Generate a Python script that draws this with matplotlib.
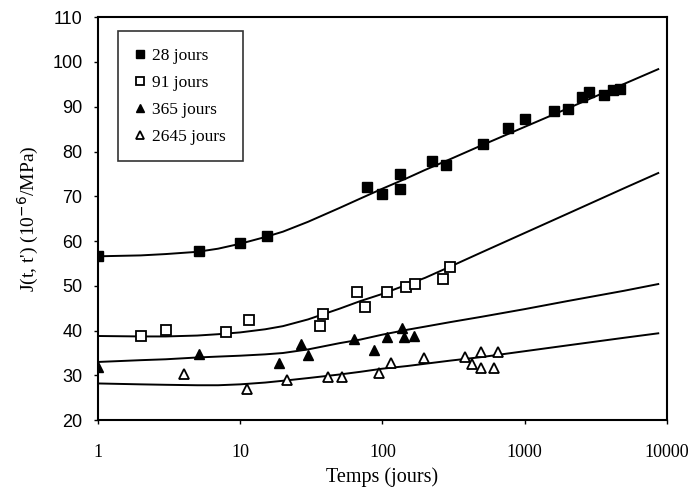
import matplotlib
matplotlib.use("Agg")
import matplotlib.pyplot as plt
from matplotlib.ticker import FixedLocator, NullLocator

# ---- data ----
t_28 = [1, 5.1, 10, 15.5, 78, 100, 134, 134, 225, 282, 514, 763, 1000, 1600, 2010, 2520, 2820, 3600, 4170, 4670]
j_28 = [56.6, 57.7, 59.5, 61.1, 72.0, 70.5, 74.9, 71.6, 77.8, 77.0, 81.6, 85.2, 87.2, 89.0, 89.4, 92.1, 93.2, 92.6, 93.7, 93.9]

t_91 = [2.0, 3.0, 8.0, 11.6, 36.5, 38.5, 66.7, 76, 108, 147, 170, 265, 297]
j_91 = [38.8, 40.1, 39.7, 42.3, 41.0, 43.7, 48.6, 45.2, 48.6, 49.7, 50.4, 51.5, 54.2]

t_365 = [1, 5.1, 18.8, 26.9, 30.1, 62.9, 88, 108, 138, 143, 166]
j_365 = [31.8, 34.7, 32.7, 37.0, 34.5, 38.1, 35.6, 38.5, 40.5, 38.5, 38.7]

t_2645 = [4.0, 11.2, 21.4, 41.7, 52.2, 94, 115, 195, 382, 430, 497, 497, 612, 653]
j_2645 = [30.3, 26.9, 28.9, 29.6, 29.6, 30.5, 32.7, 33.9, 34.0, 32.6, 35.2, 31.7, 31.7, 35.2]

curve_t = [1, 2, 3, 5, 7, 10, 15, 20, 30, 50, 70, 100, 150, 200, 300, 500, 1000, 2000, 5000, 8700]
curve_28 = [56.6, 56.8, 57.1, 57.6, 58.3, 59.4, 60.9, 62.1, 64.3, 67.4, 69.5, 71.7, 74.1, 75.9, 78.3, 81.4, 85.5, 89.6, 95.1, 98.4]
curve_91 = [38.8, 38.7, 38.7, 38.9, 39.2, 39.6, 40.3, 41.0, 42.5, 44.9, 46.6, 48.2, 50.3, 51.8, 54.3, 57.5, 61.8, 66.1, 71.8, 75.2]
curve_365 = [33.0, 33.4, 33.6, 34.0, 34.2, 34.4, 34.7, 35.0, 35.8, 37.2, 38.0, 39.1, 40.2, 40.9, 41.9, 43.1, 44.8, 46.6, 48.9, 50.4]
curve_2645 = [28.2, 28.0, 27.9, 27.8, 27.8, 28.0, 28.4, 28.8, 29.4, 30.2, 30.8, 31.5, 32.1, 32.6, 33.3, 34.1, 35.4, 36.7, 38.4, 39.4]

labels = ["28 jours", "91 jours", "365 jours", "2645 jours"]
x_ticks = [1, 10, 100, 1000, 10000]
x_ticklabels = ["1", "10", "100", "1000", "10000"]
y_ticks = [20, 30, 40, 50, 60, 70, 80, 90, 100, 110]

serif = ["Liberation Serif", "DejaVu Serif"]
sans = ["Liberation Sans", "DejaVu Sans"]

fig = plt.figure(figsize=(6.99, 4.92), dpi=100)
ax = fig.add_axes([0.140, 0.146, 0.814, 0.819])

lw = 1.4
for cv in (curve_28, curve_91, curve_365, curve_2645):
    ax.plot(curve_t, cv, color="black", lw=lw, zorder=2, solid_joinstyle="round")

ms = 7
h1, = ax.plot(t_28, j_28, ls="none", marker="s", ms=ms, mfc="black", mec="black", zorder=3)
h2, = ax.plot(t_91, j_91, ls="none", marker="s", ms=ms, mfc="white", mec="black", mew=1.3, zorder=3)
h3, = ax.plot(t_365, j_365, ls="none", marker="^", ms=ms + 0.8, mfc="black", mec="black", zorder=3)
h4, = ax.plot(t_2645, j_2645, ls="none", marker="^", ms=ms + 0.8, mfc="white", mec="black", mew=1.3, zorder=3)

ax.set_xscale("log")
ax.set_xlim(1, 10000)
ax.set_ylim(20, 110)
ax.xaxis.set_major_locator(FixedLocator(x_ticks))
ax.xaxis.set_minor_locator(NullLocator())
ax.set_xticklabels(x_ticklabels, fontfamily=serif, fontsize=13)
ax.set_yticks(y_ticks)
ax.set_yticklabels([str(v) for v in y_ticks], fontfamily=sans, fontsize=13)
ax.tick_params(axis="x", direction="out", length=3, width=1, pad=14)
ax.tick_params(axis="y", direction="out", length=3, width=1, pad=8)
for s in ax.spines.values():
    s.set_linewidth(1.5)

ax.set_xlabel("Temps (jours)", fontfamily=serif, fontsize=14.5, labelpad=5)
ax.set_ylabel("J(t, t') (10$^{-6}$/MPa)", fontfamily=serif, fontsize=14, labelpad=8)

leg = ax.legend([h1, h2, h3, h4], labels, loc="upper left", bbox_to_anchor=(0.035, 0.965),
                borderaxespad=0,
                prop={"family": serif, "size": 12.5}, frameon=True, fancybox=False,
                edgecolor="black", handlelength=0.7, handletextpad=0.35,
                labelspacing=0.62, borderpad=0.95, markerscale=0.8)
leg.get_frame().set_linewidth(1.2)

fig.savefig("out.png", dpi=100)
